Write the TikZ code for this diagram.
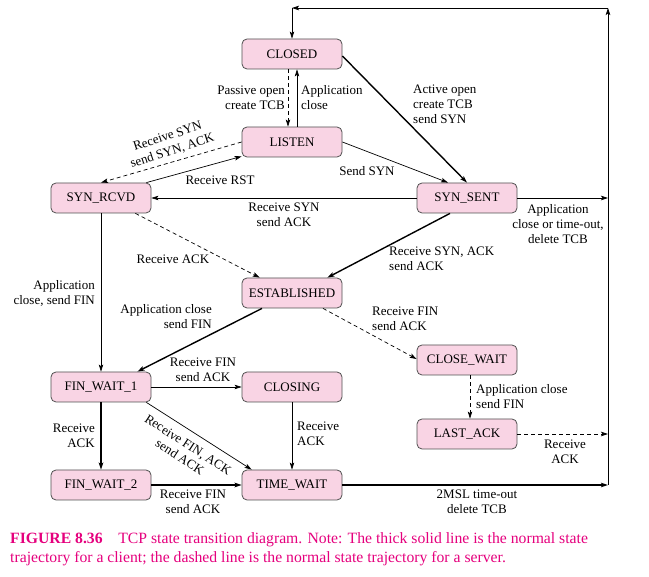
\documentclass[tikz,border=0pt]{standalone}
\usepackage{fontspec}
\setmainfont{Liberation Serif}
\usetikzlibrary{arrows.meta,calc}
\definecolor{statefill}{HTML}{F9D4E4}
\definecolor{stateedge}{HTML}{505050}
\definecolor{capcol}{HTML}{E5007D}
\begin{document}
\begin{tikzpicture}[x=1pt,y=-1pt,
  state/.style={draw=stateedge,fill=statefill,rounded corners=5pt,line width=0.8pt,
     minimum width=100pt,minimum height=30pt,inner sep=0pt,font=\fontsize{13}{15}\selectfont},
  lbl/.style={inner sep=0pt,align=center,font=\fontsize{13}{15}\selectfont},
  tip/.style={-{Stealth[length=7pt,width=4.5pt,inset=1.5pt]}},
  thinarr/.style={tip,line width=0.7pt},
  thickarr/.style={tip,line width=1.4pt},
  dasharr/.style={tip,line width=0.7pt,dash pattern=on 4pt off 3pt},
  plainline/.style={line width=0.7pt}]
\useasboundingbox (0,0) rectangle (649,577);
% states
\node[state] (closed)   at (292,54)  {CLOSED};
\node[state] (listen)   at (292,142) {LISTEN};
\node[state] (synrcvd)  at (101,198) {SYN\_RCVD};
\node[state] (synsent)  at (467,198) {SYN\_SENT};
\node[state] (estab)    at (292,293) {ESTABLISHED};
\node[state] (closewait) at (467,360) {CLOSE\_WAIT};
\node[state] (finwait1) at (101,387) {FIN\_WAIT\_1};
\node[state] (closing)  at (292,387) {CLOSING};
\node[state] (lastack)  at (467,434) {LAST\_ACK};
\node[state] (finwait2) at (101,485) {FIN\_WAIT\_2};
\node[state] (timewait) at (292,485) {TIME\_WAIT};
\coordinate (R) at (608,8);
\coordinate (T) at (292,8);
% connectors
\draw[dasharr] ([xshift=-4pt]closed.south) -- ([xshift=-4pt]listen.north);
\draw[thinarr] ([xshift=5pt]listen.north) -- ([xshift=5pt]closed.south);
\draw[thickarr] ([yshift=-2pt]closed.east) -- (synsent.north);
\draw[thinarr] (listen.east) -- ([xshift=-19pt]synsent.north);
\draw[dasharr] (listen.west) -- (synrcvd.north);
\draw[thinarr] ([xshift=-5pt]synrcvd.north east) -- ([yshift=1pt]listen.south west);
\draw[thinarr] (synsent.west) -- (synrcvd.east);
\draw[dasharr] ([xshift=-16pt]synrcvd.south east) -- ([xshift=18pt]estab.north west);
\draw[thickarr] ([xshift=-17pt]synsent.south) -- ([xshift=-15pt]estab.north east);
\draw[thinarr] (synsent.east) -- (synsent.east -| R);
\draw[thinarr] (synrcvd.south) -- (finwait1.north);
\draw[thickarr] ([xshift=-30pt]estab.south) -- ([xshift=-14pt]finwait1.north east);
\draw[dasharr] ([xshift=31pt]estab.south) -- ([yshift=1pt]closewait.west);
\draw[dasharr] ([xshift=3pt]closewait.south) -- ([xshift=3pt]lastack.north);
\draw[dasharr] (lastack.east) -- (lastack.east -| R);
\draw[thinarr] (finwait1.east) -- (closing.west);
\draw[thickarr] (finwait1.south) -- (finwait2.north);
\draw[thinarr] ([xshift=-5pt]finwait1.south east) -- ([xshift=10pt]timewait.north west);
\draw[thinarr] (closing.south) -- (timewait.north);
\draw[thickarr] (finwait2.east) -- (timewait.west);
\draw[thickarr] (timewait.east) -- (timewait.east -| R);
\draw[thinarr] (timewait.east -| R) -- (R);
\draw[thinarr] (R) -- (T);
\draw[thinarr] (T) -- (closed.north);
% labels
\node[lbl,align=right,anchor=east] (l1) at (285,98) {Passive open\\create TCB};
\node[lbl,align=left,anchor=west] (l2) at (301,98) {Application\\close};
\node[lbl,align=left,anchor=west] (l3) at (413,104) {Active open\\create TCB\\send SYN};
\node[lbl] (l4) at (367,171) {Send SYN};
\node[lbl,rotate=18] (l5) at (170,144) {Receive SYN\\send SYN, ACK};
\node[lbl] (l6) at (220,180) {Receive RST};
\node[lbl] (l7) at (284,215) {Receive SYN\\send ACK};
\node[lbl] (l8) at (558,224) {Application\\close or time-out,\\delete TCB};
\node[lbl] (l9) at (173,259) {Receive ACK};
\node[lbl,align=left,anchor=west] (l10) at (389,259) {Receive SYN, ACK\\send ACK};
\node[lbl,align=right,anchor=east] (l11) at (95,293) {Application\\close, send FIN};
\node[lbl,align=right,anchor=east] (l12) at (212,317) {Application close\\send FIN};
\node[lbl,align=left,anchor=west] (l13) at (372,319) {Receive FIN\\send ACK};
\node[lbl,align=left,anchor=west] (l14) at (476,397) {Application close\\send FIN};
\node[lbl] (l15) at (565,452) {Receive\\ACK};
\node[lbl] (l16) at (203,370) {Receive FIN\\send ACK};
\node[lbl,align=right,anchor=east] (l17) at (95,436) {Receive\\ACK};
\node[lbl,rotate=-33] (l18) at (184,451) {Receive FIN, ACK\\send ACK};
\node[lbl,align=left,anchor=west] (l19) at (297,434) {Receive\\ACK};
\node[lbl] (l20) at (193,502) {Receive FIN\\send ACK};
\node[lbl] (l21) at (477,502) {2MSL time-out\\delete TCB};
% caption
\node[inner sep=0pt,align=left,anchor=west,text=capcol,font=\fontsize{15.7}{19}\selectfont] (cap) at (10,549.5)
  {\textbf{FIGURE 8.36}\quad TCP state transition diagram. Note: The thick solid line is the normal state\\
   trajectory for a client; the dashed line is the normal state trajectory for a server.};
\end{tikzpicture}
\end{document}
